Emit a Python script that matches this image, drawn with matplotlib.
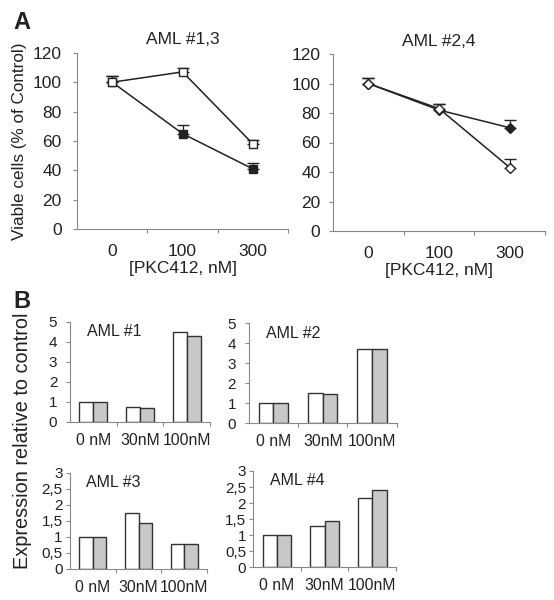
import matplotlib.pyplot as plt
import numpy as np

plt.rcParams['font.family'] = ['Liberation Sans', 'DejaVu Sans']

# panel A data
doses = ['0', '100', '300']
aml13_open = [100, 107, 58]
aml13_open_err = [4, 3, 3]
aml13_filled = [100, 65, 41]
aml13_filled_err = [4, 6, 4]
aml24_open = [100, 83, 43]
aml24_open_err = [4, 3, 6]
aml24_filled = [100, 82, 70]
aml24_filled_err = [4, 4, 5]

# panel B data
conc = ['0 nM', '30nM', '100nM']
aml1_white = [1, 0.75, 4.5]
aml1_gray = [1, 0.7, 4.3]
aml2_white = [1, 1.5, 3.7]
aml2_gray = [1, 1.45, 3.7]
aml3_white = [1, 1.75, 0.77]
aml3_gray = [1, 1.42, 0.77]
aml4_white = [1, 1.3, 2.15]
aml4_gray = [1, 1.45, 2.4]

txt = '#222222'
spine = '#888888'

fig = plt.figure(figsize=(5.54, 6), dpi=100)


def style(ax):
    for s in ['top', 'right']:
        ax.spines[s].set_visible(False)
    for s in ['left', 'bottom']:
        ax.spines[s].set_color(spine)
        ax.spines[s].set_linewidth(0.8)
    ax.tick_params(axis='y', colors=spine, labelcolor=txt, length=3, width=0.8)
    ax.tick_params(axis='x', which='major', length=0, labelcolor=txt)
    ax.tick_params(axis='x', which='minor', colors=spine, length=3, width=0.8)
    ax.set_xticks([0.5, 1.5, 2.5], minor=True)


def line_panel(rect, title, open_v, open_e, fill_v, fill_e, marker, ypad, ylabel=None):
    ax = fig.add_axes(rect)
    x = np.arange(len(doses))
    ms = 5.5
    ax.errorbar(x, fill_v, yerr=[np.zeros(3), fill_e], color=txt, lw=1.1,
                marker=marker, ms=ms, mfc=txt, mec=txt, capsize=4, elinewidth=0.9)
    ax.errorbar(x, open_v, yerr=[np.zeros(3), open_e], color=txt, lw=1.1,
                marker=marker, ms=ms, mfc='white', mec=txt, capsize=4, elinewidth=0.9)
    ax.set_xlim(-0.5, 2.5)
    ax.set_ylim(0, 120)
    ax.set_yticks(range(0, 121, 20))
    ax.set_xticks(x)
    ax.set_xticklabels(doses, fontsize=12.5)
    style(ax)
    ax.tick_params(axis='y', labelsize=12.5, pad=ypad)
    ax.tick_params(axis='x', pad=11)
    ax.set_xlabel('[PKC412, nM]', fontsize=12.5, color=txt, labelpad=1)
    ax.set_title(title, fontsize=12.5, color=txt, pad=6)
    if ylabel:
        ax.set_ylabel(ylabel, fontsize=12.3, color=txt, labelpad=4)
    return ax


line_panel([0.139, 0.618, 0.381, 0.294], 'AML #1,3', aml13_open, aml13_open_err,
           aml13_filled, aml13_filled_err, 's', 8, 'Viable cells (% of Control)')
line_panel([0.601, 0.615, 0.383, 0.295], 'AML #2,4', aml24_open, aml24_open_err,
           aml24_filled, aml24_filled_err, 'D', 6)


def bar_panel(rect, title, white, gray, ymax, step, comma, ypad):
    ax = fig.add_axes(rect)
    x = np.arange(len(conc))
    w = 0.3
    ax.bar(x - w / 2, white, w, color='white', edgecolor='#333333', lw=1)
    ax.bar(x + w / 2, gray, w, color='#c8c8c8', edgecolor='#333333', lw=1)
    ax.set_xlim(-0.5, 2.5)
    ax.set_ylim(0, ymax)
    ticks = np.arange(0, ymax + 0.01, step)
    ax.set_yticks(ticks)
    if comma:
        ax.set_yticklabels([('%g' % t).replace('.', ',') for t in ticks])
    ax.set_xticks(x)
    ax.set_xticklabels(conc, fontsize=11.3)
    style(ax)
    ax.tick_params(axis='x', pad=8)
    ax.tick_params(axis='y', labelsize=11, pad=ypad)
    ax.text(0.12, 0.9, title, transform=ax.transAxes, fontsize=11.5, color=txt,
            va='center')
    return ax


bar_panel([0.126, 0.297, 0.253, 0.167], 'AML #1', aml1_white, aml1_gray, 5, 1, False, 6)
bar_panel([0.449, 0.2945, 0.267, 0.167], 'AML #2', aml2_white, aml2_gray, 5, 1, False, 6)
bar_panel([0.126, 0.052, 0.248, 0.1605], 'AML #3', aml3_white, aml3_gray, 3, 0.5, True, 2)
bar_panel([0.457, 0.0545, 0.258, 0.1605], 'AML #4', aml4_white, aml4_gray, 3, 0.5, True, 2)

fig.text(0.04, 0.265, 'Expression relative to control', rotation=90, fontsize=14.3,
         color=txt, ha='center', va='center')
fig.text(0.025, 0.963, 'A', fontsize=17, fontweight='bold', color=txt, va='center')
fig.text(0.025, 0.497, 'B', fontsize=17, fontweight='bold', color=txt, va='center')

fig.savefig('out.png', dpi=100)
